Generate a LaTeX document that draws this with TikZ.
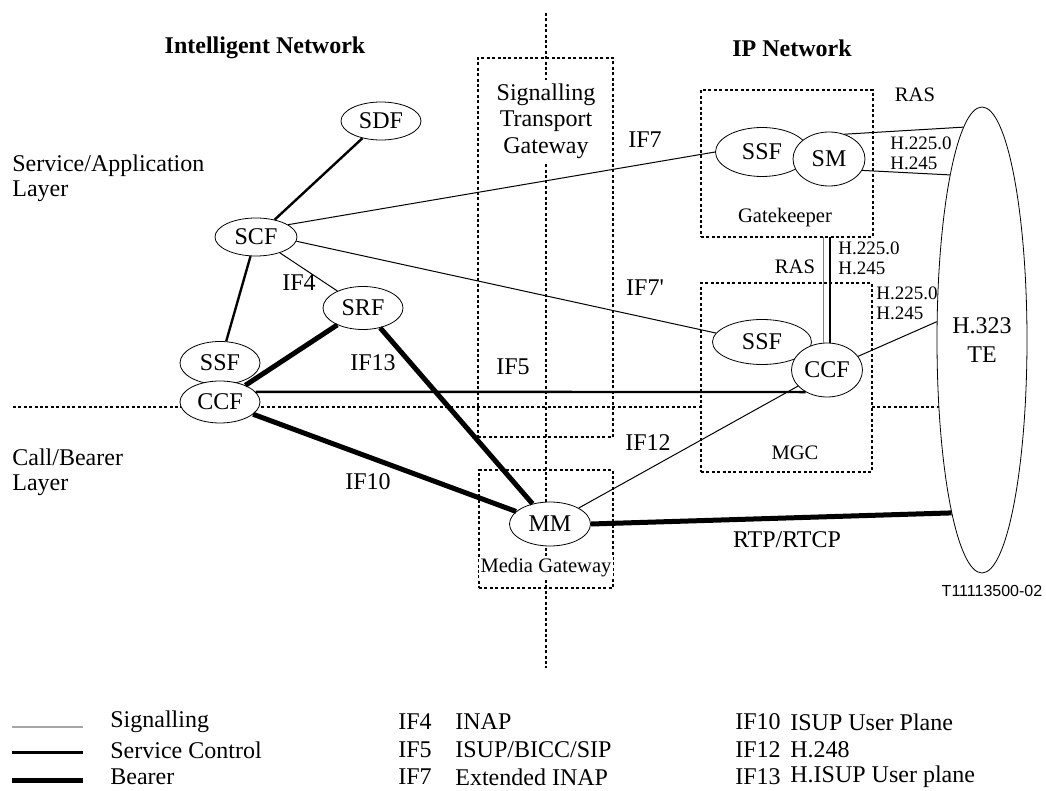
\documentclass[tikz,border=0pt]{standalone}
\usepackage{fontspec}
\setmainfont{Liberation Serif}
\setsansfont{Liberation Sans}
\usetikzlibrary{shapes.geometric}

\begin{document}
\begin{tikzpicture}[x=0.5pt,y=-0.5pt,
  fe/.style={draw, ellipse, fill=white, inner sep=0pt, minimum width=40pt, minimum height=19pt, font=\fontsize{12}{14.5}\selectfont},
  dotbox/.style={draw, dash pattern=on 1.5pt off 1.2pt, line width=0.9pt, inner sep=0pt, outer sep=0pt},
  sepline/.style={dash pattern=on 1.5pt off 1.2pt, line width=0.9pt},
  sig/.style={line width=0.5pt},
  ctrl/.style={line width=1.2pt},
  bearer/.style={line width=2.5pt},
  lbl/.style={inner sep=0pt, font=\fontsize{12}{12.5}\selectfont},
  head/.style={inner sep=0pt, font=\fontsize{12}{13}\selectfont\bfseries},
  small/.style={inner sep=0pt, font=\fontsize{10.3}{11}\selectfont},
  proto/.style={inner sep=0pt, anchor=west, align=left, font=\fontsize{9.5}{10}\selectfont}]
\useasboundingbox (0,0) rectangle (1046,791);

% layer and network separators
\draw[sepline] (546,13) -- (546,668);
\draw[sepline] (13,407) -- (701,407);
\draw[sepline] (872,407) -- (939,407);

% physical boxes
\node[dotbox, minimum width=67.5pt, minimum height=189.5pt] (stg) at (545.5,247.5) {};
\node[dotbox, minimum width=86pt, minimum height=73.5pt] (gk) at (787,163.5) {};
\node[dotbox, minimum width=85.5pt, minimum height=94.5pt] (mgc) at (786.5,377.5) {};
\node[dotbox, minimum width=67pt, minimum height=59pt] (mg) at (546,529) {};
\node[lbl, fill=white, inner sep=2pt, align=center, font=\fontsize{12}{13.25}\selectfont] (stglbl) at (546,121) {Signalling\\Transport\\Gateway};
\node[small] (gklbl) at (785,218) {Gatekeeper};
\node[small] (mgclbl) at (795,453) {MGC};
\node[small, fill=white, inner sep=1pt] (mglbl) at (546,568) {Media Gateway};

% functional entities
\node[fe] (sdf) at (381,121) {SDF};
\node[fe, minimum width=41pt] (scf) at (256,237) {SCF};
\node[fe, minimum height=21.5pt] (srf) at (363,308) {SRF};
\node[fe, minimum height=21.5pt] (ssfin) at (220,363) {SSF};
\node[fe, minimum height=21pt] (ccfin) at (220,402) {CCF};
\node[fe, minimum width=46.5pt, minimum height=24.5pt] (ssfgk) at (762,152) {SSF};
\node[fe, minimum width=36pt, minimum height=27pt] (sm) at (829,159) {SM};
\node[fe, minimum width=49.5pt, minimum height=22.5pt] (ssfmgc) at (762,342) {SSF};
\node[fe, minimum width=35.5pt, minimum height=27pt] (ccfmgc) at (827,370) {CCF};
\node[fe, minimum width=40.5pt, minimum height=22pt] (mm) at (550,524) {MM};
\node[fe, minimum width=45pt, minimum height=233pt, align=center] (te) at (982,340) {H.323\\TE};

% connections
\draw[ctrl] (sdf) -- (scf);
\draw[ctrl] (scf) -- (ssfin);
\draw[sig] (scf) -- (srf);
\draw[sig] (scf.21) -- (ssfgk.west);
\draw[sig] (scf.-6) -- (ssfmgc.169);
\draw[bearer] (ccfin) -- (srf);
\draw[bearer] (srf) -- (mm);
\draw[bearer] (ccfin) -- (mm);
\draw[ctrl] (ccfin.16) -- (ccfmgc.226);
\draw[sig] (ccfmgc) -- (mm);
\draw[sig] (ccfmgc) -- (te.158);
\draw[bearer] (mm.east) -- (te.260);
\draw[sig] (sm.58) -- (te.95);
\draw[sig] (sm.-19) -- (te.101);
\draw[sig, gray] (ccfmgc.98) -- (ccfmgc.98 |- gk.south);
\draw[line width=1.3pt] (ccfmgc.84) -- (ccfmgc.84 |- gk.south);

% labels
\node[head] (innet) at (265,48) {Intelligent Network};
\node[head] (ipnet) at (792,48) {IP Network};
\node[lbl, anchor=west, align=left] (svclayer) at (12,178) {Service/Application\\Layer};
\node[lbl, anchor=west, align=left] (calllayer) at (12,472) {Call/Bearer\\Layer};
\node[lbl] (if4) at (299,283) {IF4};
\node[lbl] (if13) at (373,363) {IF13};
\node[lbl] (if5) at (513,367) {IF5};
\node[lbl] (if7) at (645,140) {IF7};
\node[lbl] (if7b) at (645,288) {IF7\textquotesingle};
\node[lbl] (if12) at (648,443) {IF12};
\node[lbl] (if10) at (368,482) {IF10};
\node[lbl] (rtp) at (787,540) {RTP/RTCP};
\node[small] (ras1) at (915,95) {RAS};
\node[small] (ras2) at (795,267) {RAS};
\node[proto] (h1) at (890,153) {H.225.0\\H.245};
\node[proto] (h2) at (838,258) {H.225.0\\H.245};
\node[proto] (h3) at (876,303) {H.225.0\\H.245};
\node[inner sep=0pt, font=\sffamily\fontsize{8}{9}\selectfont] (figno) at (992,591) {T11113500-02};

% legend
\draw[gray!70, line width=0.8pt] (12,727) -- (83,727);
\draw[line width=1.5pt] (12,752) -- (83,752);
\draw[line width=2.5pt] (12,780) -- (83,780);
\node[lbl, anchor=west] (lg1) at (110,722) {Signalling};
\node[lbl, anchor=west] (lg2) at (110,750) {Service Control};
\node[lbl, anchor=west] (lg3) at (110,777) {Bearer};
\node[lbl, anchor=west] (lif4) at (398,722) {IF4};
\node[lbl, anchor=west] (lif5) at (398,750) {IF5};
\node[lbl, anchor=west] (lif7) at (398,777) {IF7};
\node[lbl, anchor=west] (linap) at (455,722) {INAP};
\node[lbl, anchor=west] (lisup) at (455,750) {ISUP/BICC/SIP};
\node[lbl, anchor=west] (lxinap) at (455,777) {Extended INAP};
\node[lbl, anchor=west] (lif10) at (735,722) {IF10};
\node[lbl, anchor=west] (lif12) at (735,750) {IF12};
\node[lbl, anchor=west] (lif13) at (735,777) {IF13};
\node[lbl, anchor=west] (lup) at (790,722) {ISUP User Plane};
\node[lbl, anchor=west] (lh248) at (790,750) {H.248};
\node[lbl, anchor=west] (lhisup) at (790,777) {H.ISUP User plane};
\end{tikzpicture}
\end{document}
